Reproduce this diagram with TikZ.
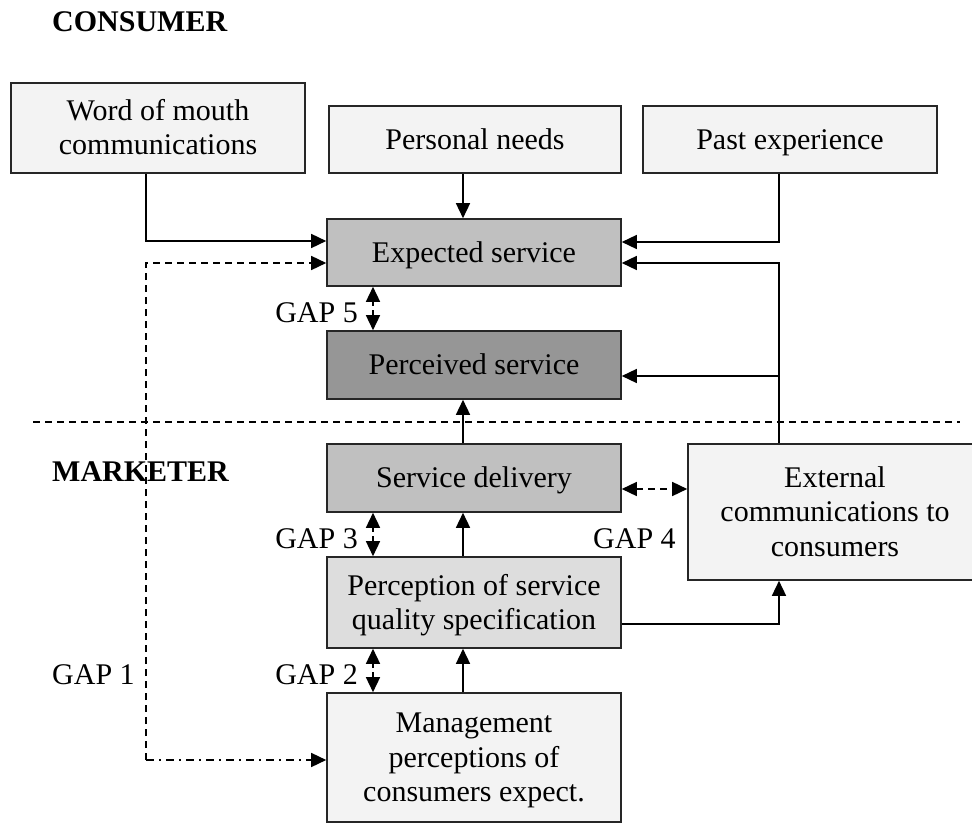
\documentclass[tikz,border=0pt]{standalone}
\usepackage{fontspec}
\setmainfont{Liberation Serif}
\usetikzlibrary{arrows.meta}
\definecolor{boxlight}{HTML}{F3F3F3}
\definecolor{boxmid}{HTML}{C0C0C0}
\definecolor{boxdark}{HTML}{969696}
\definecolor{boxpale}{HTML}{DDDDDD}
% line strut: 34.5pt tall, 7.5pt below the baseline
\newcommand\ls{\rule[-7.5pt]{0pt}{34.5pt}}
\tikzset{
  box/.style={draw=black!85, line width=1.6pt, inner sep=0pt, align=center,
    font=\fontsize{30}{34.5}\selectfont},
  lbl/.style={inner sep=0pt, font=\fontsize{30}{34.5}\selectfont},
  head/.style={inner sep=0pt, font=\fontsize{30}{34.5}\selectfont\bfseries},
  arr/.style={line width=1.5pt, -{Triangle[length=15pt,width=14pt]}},
  darr/.style={line width=1.5pt, {Triangle[length=15pt,width=14pt]}-{Triangle[length=15pt,width=14pt]}},
  gaparr/.style={darr, dash pattern=on 5pt off 4pt},
  dsh/.style={dash pattern=on 7pt off 5pt},
  dshdot/.style={dash pattern=on 8pt off 5pt on 2pt off 5pt},
}
\begin{document}
\begin{tikzpicture}[x=1pt, y=-1pt]
\clip (0,0) rectangle (972,824);
\useasboundingbox (0,0) rectangle (972,824);

% headings
\node[head, anchor=west] (consumer) at (52,22) {CONSUMER};

% consumer side
\node[box, fill=boxlight, minimum width=294pt, minimum height=90pt] (wom) at (158,128) {\ls Word of mouth\\\ls communications};
\node[box, fill=boxlight, minimum width=292pt, minimum height=67pt] (pn) at (475,139.5) {\ls Personal needs};
\node[box, fill=boxlight, minimum width=294pt, minimum height=67pt] (pe) at (790,139.5) {\ls Past experience};
\node[box, fill=boxmid, minimum width=294pt, minimum height=67pt] (exp) at (474,252.5) {\ls Expected service};
\node[box, fill=boxdark, minimum width=294pt, minimum height=68pt] (perc) at (474,365) {\ls Perceived service};

% divider between consumer and marketer
\draw[line width=1.5pt, dsh] (33,422) coordinate (dl) -- (960,422) coordinate (dr);

\node[head, anchor=west] (marketer) at (52,472) {MARKETER};

% marketer side
\node[box, fill=boxmid, minimum width=294pt, minimum height=68pt] (sd) at (474,478) {\ls Service delivery};
\node[box, fill=boxpale, minimum width=294pt, minimum height=91pt] (pq) at (474,602.5) {\ls Perception of service\\\ls quality specification};
\node[box, fill=boxlight, minimum width=294pt, minimum height=129pt] (mg) at (474,757.5) {\ls Management\\\ls perceptions of\\\ls consumers expect.};
\node[box, fill=boxlight, minimum width=294pt, minimum height=136pt] (ext) at (835,512) {\ls External\\\ls communications to\\\ls consumers};

% solid connectors
\draw[arr] (146,0 |- wom.south) |- (exp.west |- 0,241);
\draw[arr] (463,0 |- pn.south) -- (463,0 |- exp.north);
\draw[arr] (779,0 |- pe.south) |- (exp.east |- 0,242);
\coordinate (j) at (779,376);
\draw[arr] (779,0 |- ext.north) |- (exp.east |- 0,263);
\draw[arr] (j) -- (perc.east |- j);
\draw[arr] (463,0 |- sd.north) -- (463,0 |- perc.south);
\draw[arr] (463,0 |- pq.north) -- (463,0 |- sd.south);
\draw[arr] (463,0 |- mg.north) -- (463,0 |- pq.south);
\draw[arr] (pq.east |- 0,624) -| (779,0 |- ext.south);

% gaps
\draw[gaparr] (373,0 |- exp.south) -- (373,0 |- perc.north);
\node[lbl, anchor=east] (g5) at (358,313) {GAP 5};
\draw[gaparr] (373,0 |- sd.south) -- (373,0 |- pq.north);
\node[lbl, anchor=east] (g3) at (358,539) {GAP 3};
\draw[gaparr] (373,0 |- pq.south) -- (373,0 |- mg.north);
\node[lbl, anchor=east] (g2) at (358,675) {GAP 2};
\draw[darr, dsh] (sd.east |- 0,489) -- (ext.west |- 0,489);
\node[lbl, anchor=west] (g4) at (593,539) {GAP 4};

% gap 1 loop
\coordinate (g1c) at (146,760);
\draw[arr, dsh] (g1c) |- (exp.west |- 0,263);
\draw[arr, dshdot] (g1c) -- (mg.west |- g1c);
\node[lbl, anchor=west] (g1) at (52,675) {GAP 1};
\end{tikzpicture}
\end{document}
